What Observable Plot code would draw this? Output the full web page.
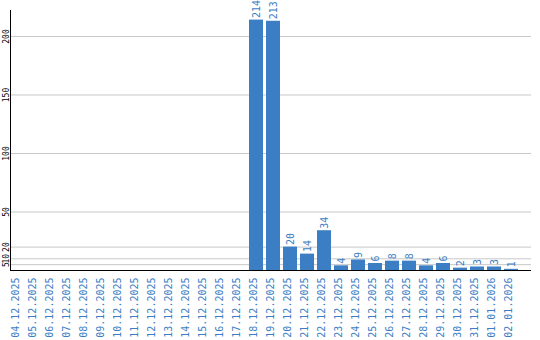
<!DOCTYPE html>
<html>
<head>
<meta charset="utf-8">
<script src="https://cdn.jsdelivr.net/npm/d3@7"></script>
<script src="https://cdn.jsdelivr.net/npm/@observablehq/plot@0.6"></script>
<style>
  html, body { margin: 0; padding: 0; background: #fff; }
  #chart svg { display: block; }
</style>
</head>
<body>
<div id="chart"></div>
<script>
const dates = [
  "04.12.2025","05.12.2025","06.12.2025","07.12.2025","08.12.2025","09.12.2025",
  "10.12.2025","11.12.2025","12.12.2025","13.12.2025","14.12.2025","15.12.2025",
  "16.12.2025","17.12.2025","18.12.2025","19.12.2025","20.12.2025","21.12.2025",
  "22.12.2025","23.12.2025","24.12.2025","25.12.2025","26.12.2025","27.12.2025",
  "28.12.2025","29.12.2025","30.12.2025","31.12.2025","01.01.2026","02.01.2026"
];
const values = [
  0,0,0,0,0,0,
  0,0,0,0,0,0,
  0,0,214,213,20,14,
  34,4,9,6,8,8,
  4,6,2,3,3,1
];
const yTicks = [5, 10, 20, 50, 100, 150, 200];

const data = dates.map((d, i) => ({date: d, value: values[i]}));
const blue = "#3b7ec4";
const mono = "DejaVu Sans Mono, monospace";

const chart = Plot.plot({
  width: 540,
  height: 340,
  marginLeft: 11,
  marginRight: 9,
  marginTop: 10,
  marginBottom: 70,
  style: {background: "#fff", fontFamily: mono},
  x: {domain: dates, paddingInner: 3 / 17, paddingOuter: 0.382, align: 0, axis: null},
  y: {domain: [0, 222.2], axis: null},
  marks: [
    Plot.ruleY(yTicks, {stroke: "#c8c8c8", strokeWidth: 1}),
    Plot.barY(data, {x: "date", y: "value", fill: blue}),
    Plot.ruleY([0], {stroke: "#000"}),
    Plot.frame({anchor: "left", stroke: "#000", dx: -1}),
    Plot.text(yTicks, {y: d => d, text: d => String(d), frameAnchor: "left", dx: -5.5, rotate: -90, textAnchor: "middle", fontSize: 8, fill: "#000", fontFamily: mono}),
    Plot.text(dates, {x: d => d, text: d => d, frameAnchor: "bottom", dy: 7, rotate: -90, textAnchor: "end", fontSize: 10, fill: blue, fontFamily: mono}),
    Plot.text(data.filter(d => d.value > 0), {x: "date", y: "value", text: d => String(d.value), dy: -2, rotate: -90, textAnchor: "start", fontSize: 10, fill: blue, fontFamily: mono})
  ]
});
document.getElementById("chart").appendChild(chart);
</script>
</body>
</html>
